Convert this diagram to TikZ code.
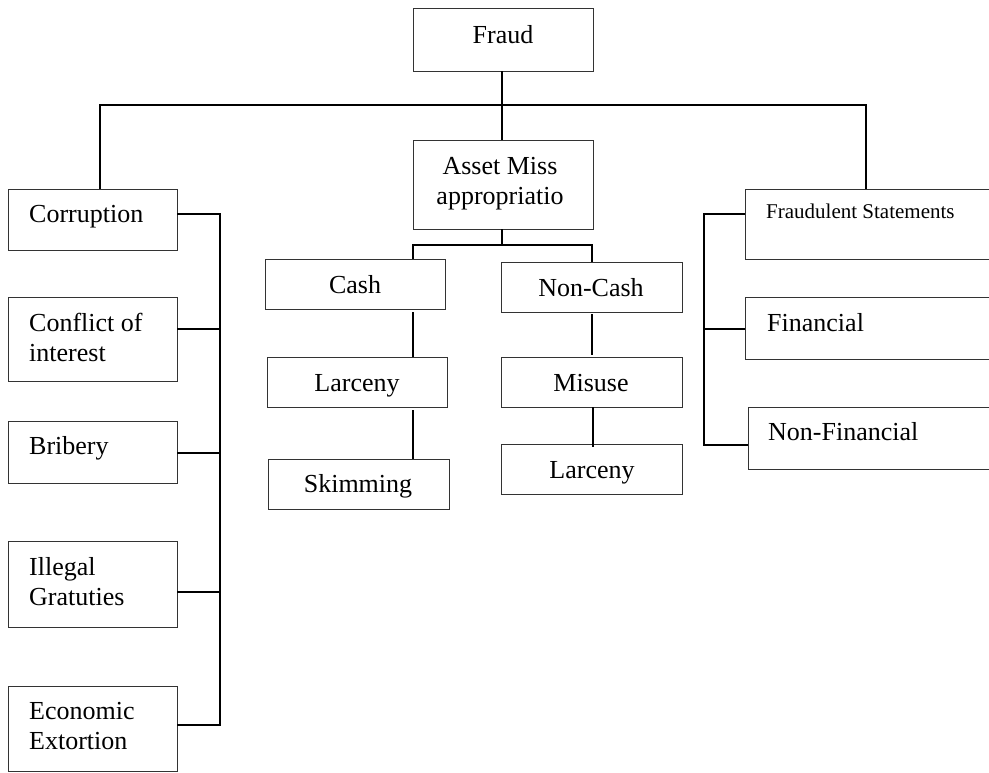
\documentclass[tikz,border=0pt]{standalone}
\usepackage{fontspec}
\setmainfont{Liberation Serif}
\tikzset{
  box/.style={draw=black!80, line width=0.9pt, rectangle, anchor=north west, inner sep=0pt, outer sep=0pt},
  link/.style={draw=black, line width=1.7pt},
  lbl/.style={font=\fontsize{26}{29.5}\selectfont, inner sep=0pt, align=left},
  slbl/.style={font=\fontsize{21}{24}\selectfont, inner sep=0pt},
}

\begin{document}
\begin{tikzpicture}[x=1pt, y=-1pt]
\useasboundingbox (0,0) rectangle (989,772);
\clip (0,0) rectangle (989,772);

% top and middle column
\node[box, minimum width=180pt, minimum height=63pt] (fraud) at (413,8) {};
\node[box, minimum width=180pt, minimum height=89pt] (asset) at (413,140) {};
\node[box, minimum width=180pt, minimum height=50pt] (cash) at (265,259) {};
\node[box, minimum width=180pt, minimum height=50pt] (larc) at (267,357) {};
\node[box, minimum width=181pt, minimum height=50pt] (skim) at (268,459) {};
\node[box, minimum width=181pt, minimum height=50pt] (ncash) at (501,262) {};
\node[box, minimum width=181pt, minimum height=50pt] (misuse) at (501,357) {};
\node[box, minimum width=181pt, minimum height=50pt] (larcb) at (501,444) {};

\node[lbl, anchor=base] (fraud-t) at (503,43) {Fraud};
\node[lbl, anchor=base, align=center] (asset-t) at (500,204) {Asset Miss\\appropriatio};
\node[lbl, anchor=base] (cash-t) at (355,293) {Cash};
\node[lbl, anchor=base] (larc-t) at (357,391) {Larceny};
\node[lbl, anchor=base] (skim-t) at (358,492) {Skimming};
\node[lbl, anchor=base] (ncash-t) at (591,296) {Non-Cash};
\node[lbl, anchor=base] (misuse-t) at (591,391) {Misuse};
\node[lbl, anchor=base] (larcb-t) at (592,478) {Larceny};

% left column
\node[box, minimum width=169pt, minimum height=61pt] (corr) at (8,189) {};
\node[box, minimum width=169pt, minimum height=84pt] (conf) at (8,297) {};
\node[box, minimum width=169pt, minimum height=62pt] (brib) at (8,421) {};
\node[box, minimum width=169pt, minimum height=86pt] (illeg) at (8,541) {};
\node[box, minimum width=169pt, minimum height=85pt] (econ) at (8,686) {};

\node[lbl, anchor=base west] (corr-t) at (29,222) {Corruption};
\node[lbl, anchor=base west] (conf-t) at (29,361) {Conflict of\\interest};
\node[lbl, anchor=base west] (brib-t) at (29,454) {Bribery};
\node[lbl, anchor=base west] (illeg-t) at (29,605) {Illegal\\Gratuties};
\node[lbl, anchor=base west] (econ-t) at (29,749) {Economic\\Extortion};

% right column
\node[box, minimum width=260pt, minimum height=70pt] (fstat) at (745,189) {};
\node[box, minimum width=260pt, minimum height=62pt] (fin) at (745,297) {};
\node[box, minimum width=257pt, minimum height=62pt] (nfin) at (748,407) {};

\node[slbl, anchor=base west] (fstat-t) at (766,218) {Fraudulent Statements};
\node[lbl, anchor=base west] (fin-t) at (767,331) {Financial};
\node[lbl, anchor=base west] (nfin-t) at (768,440) {Non-Financial};

% connectors
\coordinate (barL) at (100,105);
\coordinate (barR) at (866,105);
\coordinate (subL) at (413,245);
\coordinate (subR) at (592,245);
\coordinate (spL) at (220,214);
\coordinate (spR) at (704,214);

\draw[link] (fraud.south -| 502,0) -- (asset.north -| 502,0);
\draw[link] (corr.north -| barL) -- (barL) -- (barR) -- (fstat.north -| barR);
\draw[link] (asset.south -| 502,0) -- (502,245);
\draw[link] (cash.north -| subL) -- (subL) -- (subR) -- (ncash.north -| subR);

\draw[link] (413,312) -- (larc.north -| 413,0);
\draw[link] (413,410) -- (skim.north -| 413,0);
\draw[link] (592,314) -- (592,355);
\draw[link] (misuse.south -| 593,0) -- (593,447);

\draw[link] (corr.east |- spL) -- (spL) -- (220,725) -- (econ.east |- 0,725);
\draw[link] (conf.east |- 0,329) -- (220,329);
\draw[link] (brib.east |- 0,453) -- (220,453);
\draw[link] (illeg.east |- 0,592) -- (220,592);

\draw[link] (fstat.west |- spR) -- (spR) -- (704,445) -- (nfin.west |- 0,445);
\draw[link] (fin.west |- 0,329) -- (704,329);
\end{tikzpicture}
\end{document}
